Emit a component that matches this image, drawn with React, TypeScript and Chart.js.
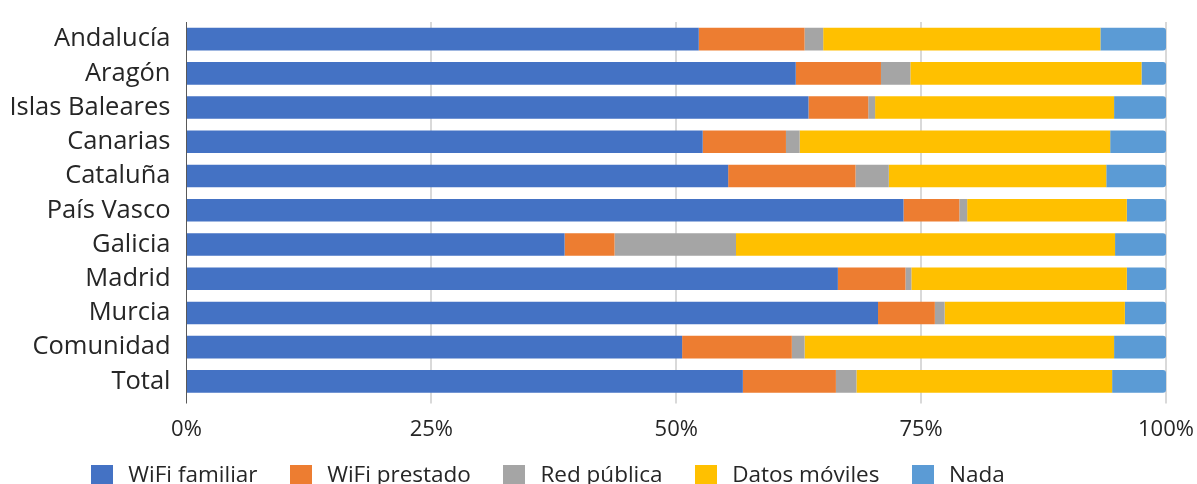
import React, { useEffect, useRef } from "react";
import { Chart, registerables } from "chart.js";

Chart.register(...registerables);

const categories = [
  "Andalucía",
  "Aragón",
  "Islas Baleares",
  "Canarias",
  "Cataluña",
  "País Vasco",
  "Galicia",
  "Madrid",
  "Murcia",
  "Comunidad",
  "Total",
];
const seriesNames = ["WiFi familiar", "WiFi prestado", "Red pública", "Datos móviles", "Nada"];
const wifiFamiliar = [52.3, 62.2, 63.5, 52.7, 55.3, 73.2, 38.6, 66.5, 70.6, 50.6, 56.8];
const wifiPrestado = [10.8, 8.7, 6.1, 8.5, 13.0, 5.7, 5.1, 6.9, 5.8, 11.2, 9.5];
const redPublica = [1.9, 3.0, 0.7, 1.4, 3.4, 0.8, 12.4, 0.6, 1.0, 1.3, 2.1];
const datosMoviles = [28.3, 23.6, 24.4, 31.7, 22.2, 16.3, 38.7, 22.0, 18.4, 31.6, 26.1];
const nada = [6.7, 2.5, 5.3, 5.7, 6.1, 4.0, 5.2, 4.0, 4.2, 5.3, 5.5];
const xTickValues = [0, 25, 50, 75, 100];

const colors = ["#4472C4", "#ED7D31", "#A5A5A5", "#FFC000", "#5B9BD5"];
const TEXT = "#262626";
const FONT = "'Open Sans', sans-serif";

const LEGEND_LEFT = 58.7;
const LEGEND_TOP = 436.2;

function swatch(color: string) {
  const c = document.createElement("canvas");
  c.width = 22;
  c.height = 22;
  const ctx = c.getContext("2d");
  if (ctx) {
    ctx.fillStyle = color;
    ctx.fillRect(0, 0, 22, 22);
  }
  return c;
}

const legendPlacement = {
  id: "legendPlacement",
  afterLayout(chart: any) {
    const lg = chart.legend;
    if (!lg) return;
    const dy = LEGEND_TOP - lg.top;
    lg.top += dy;
    lg.bottom += dy;
    const dx = LEGEND_LEFT - lg.left;
    lg.left += dx;
    lg.right += dx;
  },
};

export default function App() {
  const canvasRef = useRef<HTMLCanvasElement | null>(null);

  useEffect(() => {
    const canvas = canvasRef.current;
    if (!canvas) return;
    const values = [wifiFamiliar, wifiPrestado, redPublica, datosMoviles, nada];
    const datasets = values.map((data, i) => {
      const ds: any = {
        label: seriesNames[i],
        data,
        backgroundColor: colors[i],
        borderWidth: 0,
        categoryPercentage: 1,
        barPercentage: 0.66,
        pointStyle: swatch(colors[i]),
      };
      if (i === values.length - 1) {
        ds.borderRadius = 3;
        ds.borderSkipped = "start";
      }
      return ds;
    });

    const chart = new Chart(canvas, {
      type: "bar",
      data: { labels: categories, datasets },
      plugins: [legendPlacement],
      options: {
        indexAxis: "y",
        animation: false,
        responsive: false,
        devicePixelRatio: 1,
        layout: { padding: { left: 0, right: 31, top: 22, bottom: 0 } },
        plugins: {
          tooltip: { enabled: false },
          legend: {
            position: "bottom",
            align: "start",
            labels: {
              usePointStyle: true,
              pointStyleWidth: 30.1,
              boxWidth: 22,
              boxHeight: 22,
              padding: 28.25,
              color: TEXT,
              font: { family: FONT, size: 22.5 },
            },
          },
        },
        scales: {
          x: {
            stacked: true,
            min: 0,
            max: 100,
            afterBuildTicks: (scale: any) => {
              scale.ticks = xTickValues.map((v) => ({ value: v }));
            },
            afterFit: (scale: any) => {
              scale.height = 43.75;
              scale.paddingLeft = 0;
              scale.paddingRight = 0;
            },
            ticks: {
              padding: 13.3,
              color: TEXT,
              font: { family: FONT, size: 22 },
              callback: (v: any) => `${v}%`,
            },
            grid: {
              drawTicks: true,
              tickLength: 5,
              color: (ctx: any) => (ctx.tick && ctx.tick.value === 0 ? "#595959" : "#D9D9D9"),
              lineWidth: (ctx: any) => (ctx.tick && ctx.tick.value === 0 ? 1 : 2),
            },
            border: { display: false },
          },
          y: {
            stacked: true,
            afterFit: (scale: any) => {
              scale.width = 186.5;
              scale.paddingTop = 0;
              scale.paddingBottom = 0;
            },
            ticks: {
              padding: 16,
              color: TEXT,
              font: { family: FONT, size: 25.5 },
              autoSkip: false,
            },
            grid: { display: false, drawTicks: false },
            border: { display: true, color: "#595959", width: 1 },
          },
        },
      },
    });
    return () => chart.destroy();
  }, []);

  return (
    <div
      style={{
        position: "absolute",
        left: 0,
        top: 0,
        width: 1197,
        height: 484,
        overflow: "hidden",
        background: "#ffffff",
      }}
    >
      <canvas ref={canvasRef} width={1197} height={503} style={{ display: "block" }} />
    </div>
  );
}
